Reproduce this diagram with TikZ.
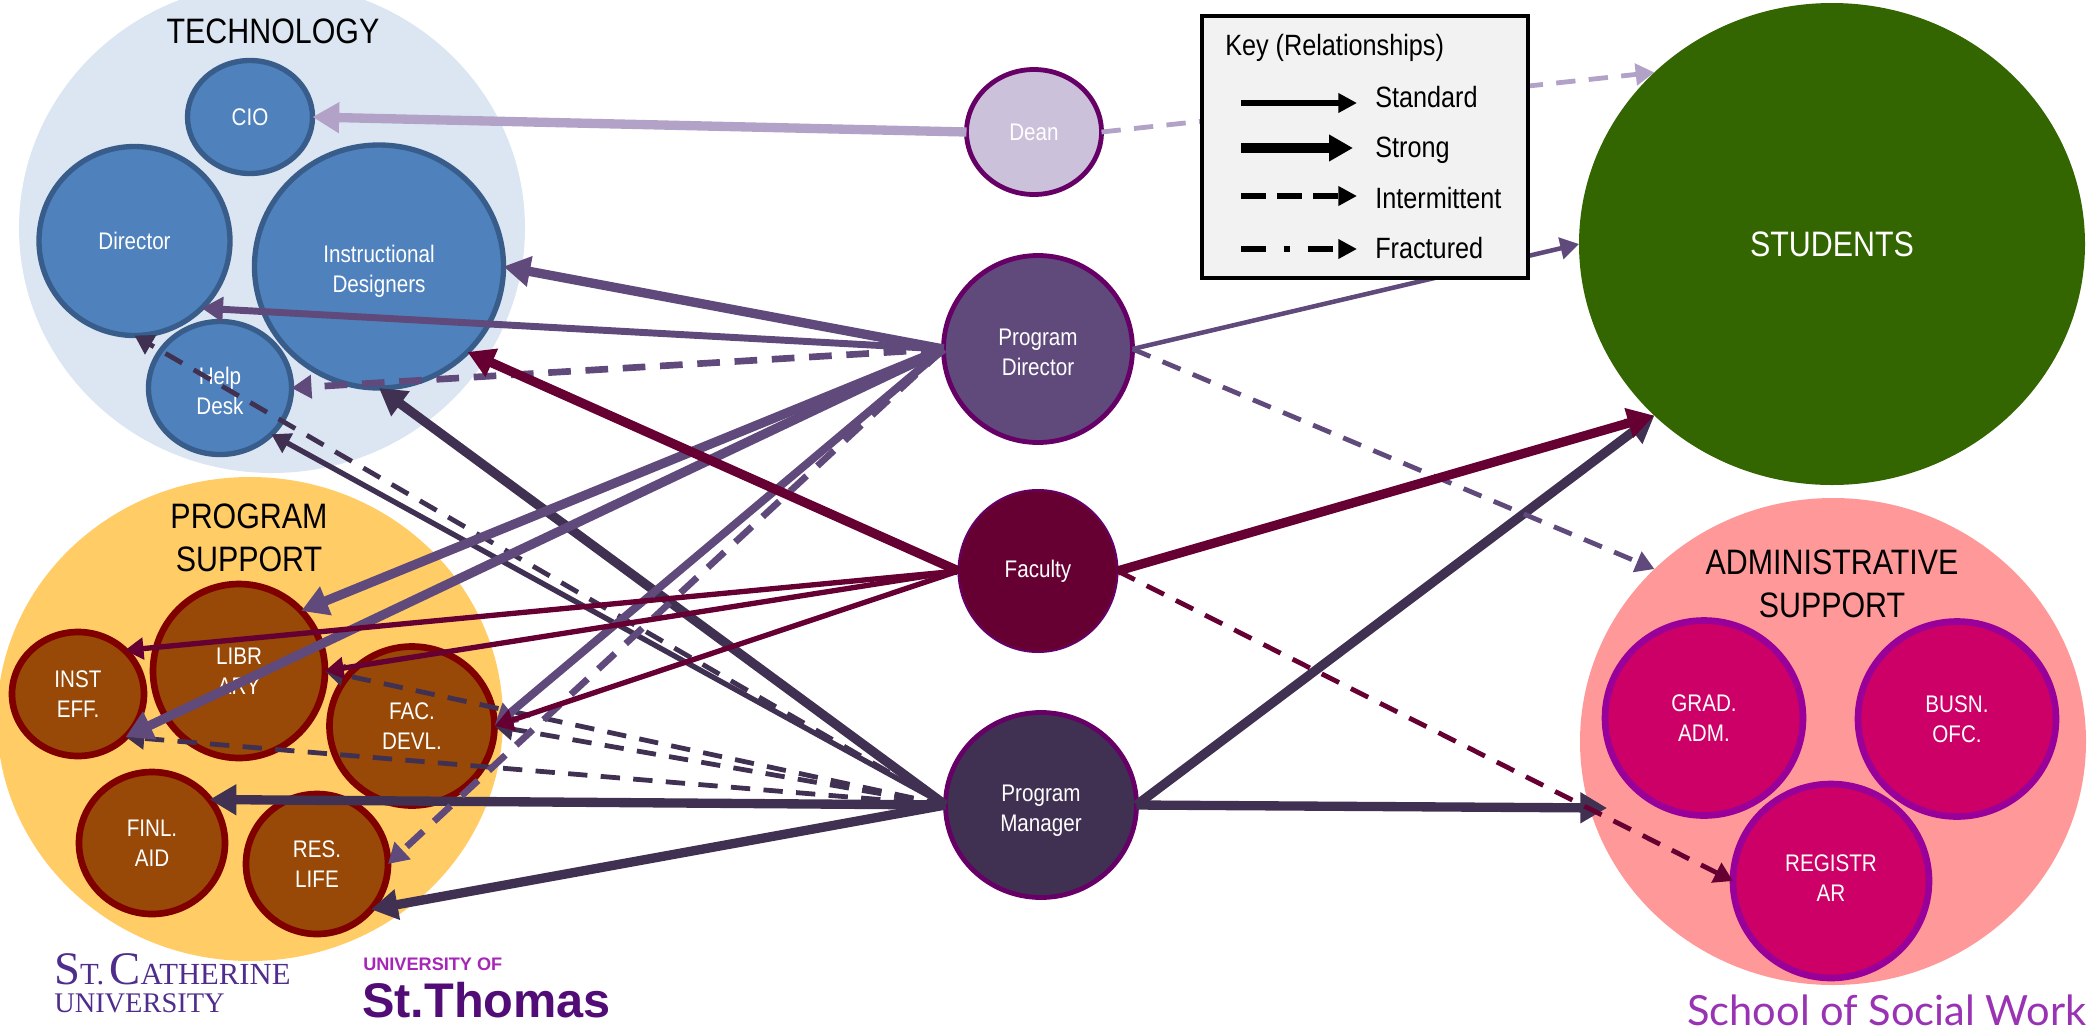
\documentclass[tikz,border=0pt]{standalone}
\usepackage{fontspec}
\usetikzlibrary{shapes.geometric,arrows.meta}
\setmainfont[FakeStretch=0.86]{Liberation Sans}
\newfontfamily\logoserif{Liberation Serif}
\newfontfamily\logosans{Liberation Sans}
\newfontfamily\logolato{Lato}
\definecolor{techbg}{HTML}{DCE6F2}
\definecolor{techfill}{HTML}{4F81BD}
\definecolor{techline}{HTML}{385D8A}
\definecolor{suppbg}{HTML}{FFCC66}
\definecolor{suppfill}{HTML}{984807}
\definecolor{suppline}{HTML}{800000}
\definecolor{admbg}{HTML}{FF9999}
\definecolor{admfill}{HTML}{CC0066}
\definecolor{admline}{HTML}{990099}
\definecolor{roleline}{HTML}{660066}
\definecolor{deanfill}{HTML}{CCC1DA}
\definecolor{deanarrow}{HTML}{B3A2C7}
\definecolor{pdcol}{HTML}{604A7B}
\definecolor{faccol}{HTML}{660033}
\definecolor{pmcol}{HTML}{403152}
\definecolor{studcol}{HTML}{336600}
\definecolor{keyfill}{HTML}{F2F2F2}
\definecolor{logopurple}{HTML}{4F2D8C}
\definecolor{tommypurple}{HTML}{510C76}
\definecolor{tommylight}{HTML}{A626B8}
\definecolor{ssw}{HTML}{9933B3}
\tikzset{
  blob/.style 2 args={ellipse,inner sep=0pt,outer sep=0pt,align=center,text=white,minimum width=(#1)*1.5pt,minimum height=(#2)*1.5pt},
  smalltxt/.style={font=\fontsize{18}{22.5}\selectfont},
  bigtxt/.style={font=\fontsize{26.5}{32.5}\selectfont},
  techcirc/.style 2 args={blob={#1-2.5}{#2-2.5},smalltxt,fill=techfill,draw=techline,line width=4pt},
  suppcirc/.style 2 args={blob={#1-3}{#2-3},smalltxt,fill=suppfill,draw=suppline,line width=5pt},
  admcirc/.style 2 args={blob={#1-3}{#2-3},smalltxt,fill=admfill,draw=admline,line width=5pt},
  rolecirc/.style 2 args={blob={#1-2.5}{#2-2.5},smalltxt,draw=roleline,line width=3.6pt},
  groupcirc/.style 2 args={blob={#1}{#2},draw=none},
  strongline/.style={line width=7pt,-{Triangle[length=20pt,width=22pt]}},
  stdline/.style={line width=4pt,-{Triangle[length=14pt,width=16pt]}},
  heavyline/.style={line width=5.2pt,-{Triangle[length=16pt,width=18pt]}},
  dashline/.style={line width=3.6pt,dash pattern=on 14.5pt off 10pt,-{Triangle[length=14pt,width=16pt]}},
  heavydash/.style={line width=5pt,dash pattern=on 17pt off 11pt,-{Triangle[length=15pt,width=17pt]}},
  keytxt/.style={font=\fontsize{22}{26}\selectfont,anchor=west,inner sep=0pt},
  grouptitle/.style={bigtxt,align=center,inner sep=0pt}
}
\begin{document}
\begin{tikzpicture}[x=0.75pt,y=0.75pt,yscale=-1,xscale=1]
\useasboundingbox (0,0) rectangle (2089,1032);

% Group circles
\node [groupcirc={253}{245},fill=techbg] (techgroup) at (272,228) {};
\node [groupcirc={253}{242},fill=suppbg] (suppgroup) at (250,719) {};
\node [groupcirc={253}{243.5},fill=admbg] (admgroup) at (1833,741.5) {};

% Group titles
\node [grouptitle] (techtitle) at (273,31) {TECHNOLOGY};
\node [grouptitle] (supptitle) at (249,538) {PROGRAM\\SUPPORT};
\node [grouptitle] (admtitle) at (1832,584) {ADMINISTRATIVE\\SUPPORT};

% Technology
\node [techcirc={65}{59}] (cio) at (250,117) {CIO};
\node [techcirc={98}{97}] (techdir) at (134.5,241) {Director};
\node [techcirc={127}{124},text height=42pt] (instdes) at (379,266.5) {Instructional\\Designers};
\node [techcirc={74}{69},text height=40pt] (helpdesk) at (220,388) {Help\\Desk};

% Program support
\node [suppcirc={89}{90}] (library) at (239,671) {LIBR\\ARY};
\node [suppcirc={69}{65}] (insteff) at (78,694) {INST\\EFF.};
\node [suppcirc={74}{73}] (reslife) at (317,864) {RES.\\LIFE};
\node [suppcirc={85.5}{82.5}] (facdevl) at (412,726) {FAC.\\DEVL.};
\node [suppcirc={76}{74}] (finlaid) at (152,843) {FINL.\\AID};

% Administrative support
\node [admcirc={102}{100.5}] (gradadm) at (1704,718) {GRAD.\\ADM.};
\node [admcirc={102}{100.5}] (busnofc) at (1957,719) {BUSN.\\OFC.};
\node [admcirc={101}{100},text depth=4pt] (registrar) at (1831,881) {REGISTR\\AR};

% Roles
\node [rolecirc={70}{65},fill=deanfill] (dean) at (1034,132) {Dean};
\node [rolecirc={97}{96},fill=pdcol,text height=40pt] (progdir) at (1038,349) {Program\\Director};
\node [rolecirc={82}{83.5},fill=faccol,line width=1.5pt] (faculty) at (1038,571) {Faculty};
\node [rolecirc={98}{95},fill=pmcol,text height=44pt] (progmgr) at (1041,805) {Program\\Manager};
\node [blob={253}{241},font=\fontsize{26.5}{32}\selectfont,fill=studcol] (students) at (1832,244) {STUDENTS};

\coordinate (admentry) at (1607,808);

% Dean
\draw [strongline,color=deanarrow] (dean.west) -- (cio.east);
\draw [dashline,color=deanarrow] (dean.east) -- (students.136);

% Program Manager
\draw [strongline,color=pmcol] (progmgr.west) -- (instdes.270);
\draw [stdline,color=pmcol] (progmgr.west) -- (helpdesk.-42);
\draw [dashline,color=pmcol] (progmgr.west) -- (techdir.270);
\draw [dashline,color=pmcol] (progmgr.west) -- (library.east);
\draw [dashline,color=pmcol] (progmgr.west) -- (facdevl.east);
\draw [dashline,color=pmcol] (progmgr.west) -- (insteff.-42);
\draw [strongline,color=pmcol] (progmgr.west) -- (finlaid.37);
\draw [strongline,color=pmcol] (progmgr.west) -- (reslife.-40);
\draw [strongline,color=pmcol] (progmgr.east) -- (students.224);
\draw [strongline,color=pmcol] (progmgr.east) -- (admentry);

% Program Director
\draw [strongline,color=pdcol] (progdir.west) -- (instdes.0);
\draw [heavyline,color=pdcol] (progdir.west) -- (techdir.-45);
\draw [heavydash,color=pdcol] (progdir.west) -- (helpdesk.east);
\draw [strongline,color=pdcol] (progdir.west) -- (library.44);
\draw [strongline,color=pdcol] (progdir.west) -- (insteff.-42);
\draw [heavyline,line width=6pt,color=pdcol] (progdir.west) -- (facdevl.east);
\draw [heavydash,color=pdcol] (progdir.west) -- (reslife.east);
\draw [stdline,line width=3.4pt,color=pdcol] (progdir.east) -- (students.180);
\draw [dashline,color=pdcol] (progdir.east) -- (admgroup.136);

% Faculty
\draw [strongline,color=faccol] (faculty.west) -- (instdes.-44);
\draw [stdline,color=faccol] (faculty.west) -- (insteff.43);
\draw [stdline,color=faccol] (faculty.west) -- (library.east);
\draw [stdline,color=faccol] (faculty.west) -- (facdevl.east);
\draw [strongline,color=faccol] (faculty.east) -- (students.224);
\draw [dashline,color=faccol] (faculty.east) -- (registrar.west);

% Key
\node [draw=black,line width=3.6pt,fill=keyfill,minimum width=244.5pt,minimum height=196.5pt,inner sep=0pt] (keybox) at (1365,147) {};
\node [keytxt] (keytitle) at (1225,48) {Key (Relationships)};
\node [keytxt] (keystd) at (1375,97) {Standard};
\node [keytxt] (keystr) at (1375,150) {Strong};
\node [keytxt] (keyint) at (1375,198) {Intermittent};
\node [keytxt] (keyfra) at (1375,248) {Fractured};
\coordinate (keystdA) at (1241,103);
\coordinate (keystrA) at (1241,148);
\coordinate (keyintA) at (1241,196);
\coordinate (keyfraA) at (1241,249);
\coordinate (keystdB) at (1357,103);
\coordinate (keystrB) at (1353,148);
\coordinate (keyintB) at (1357,196);
\coordinate (keyfraB) at (1357,249);
\draw [line width=4.5pt,-{Triangle[length=14pt,width=14pt]}] (keystdA) -- (keystdB);
\draw [line width=7pt,-{Triangle[length=18pt,width=19pt]}] (keystrA) -- (keystrB);
\draw [line width=4.5pt,dash pattern=on 19pt off 8pt,-{Triangle[length=14pt,width=14pt]}] (keyintA) -- (keyintB);
\draw [line width=4.5pt,dash pattern=on 19pt off 13pt on 5pt off 13pt,-{Triangle[length=14pt,width=14pt]}] (keyfraA) -- (keyfraB);

% Logos
\node [anchor=west,inner sep=0pt,text=logopurple,font=\logoserif\fontsize{23}{24}\selectfont] (stkate) at (54,969) {{\fontsize{35}{24}\selectfont S}T.\,{\fontsize{35}{24}\selectfont C}ATHERINE};
\node [anchor=west,inner sep=0pt,text=logopurple,font=\logoserif\fontsize{21.3}{24}\selectfont] (stkateu) at (54,1003) {UNIVERSITY};
\node [anchor=west,inner sep=0pt,text=tommylight,font=\logosans\bfseries\fontsize{13.6}{16}\selectfont] (tommyu) at (363,964) {UNIVERSITY OF};
\node [anchor=west,inner sep=0pt,text=tommypurple,font=\logosans\bfseries\fontsize{36.5}{40}\selectfont] (tommy) at (362,1000) {St.Thomas};
\node [anchor=west,inner sep=0pt,text=ssw,font=\logolato\fontsize{31.2}{36}\selectfont] (socialwork) at (1687,1010) {School of Social Work};
\end{tikzpicture}
\end{document}
